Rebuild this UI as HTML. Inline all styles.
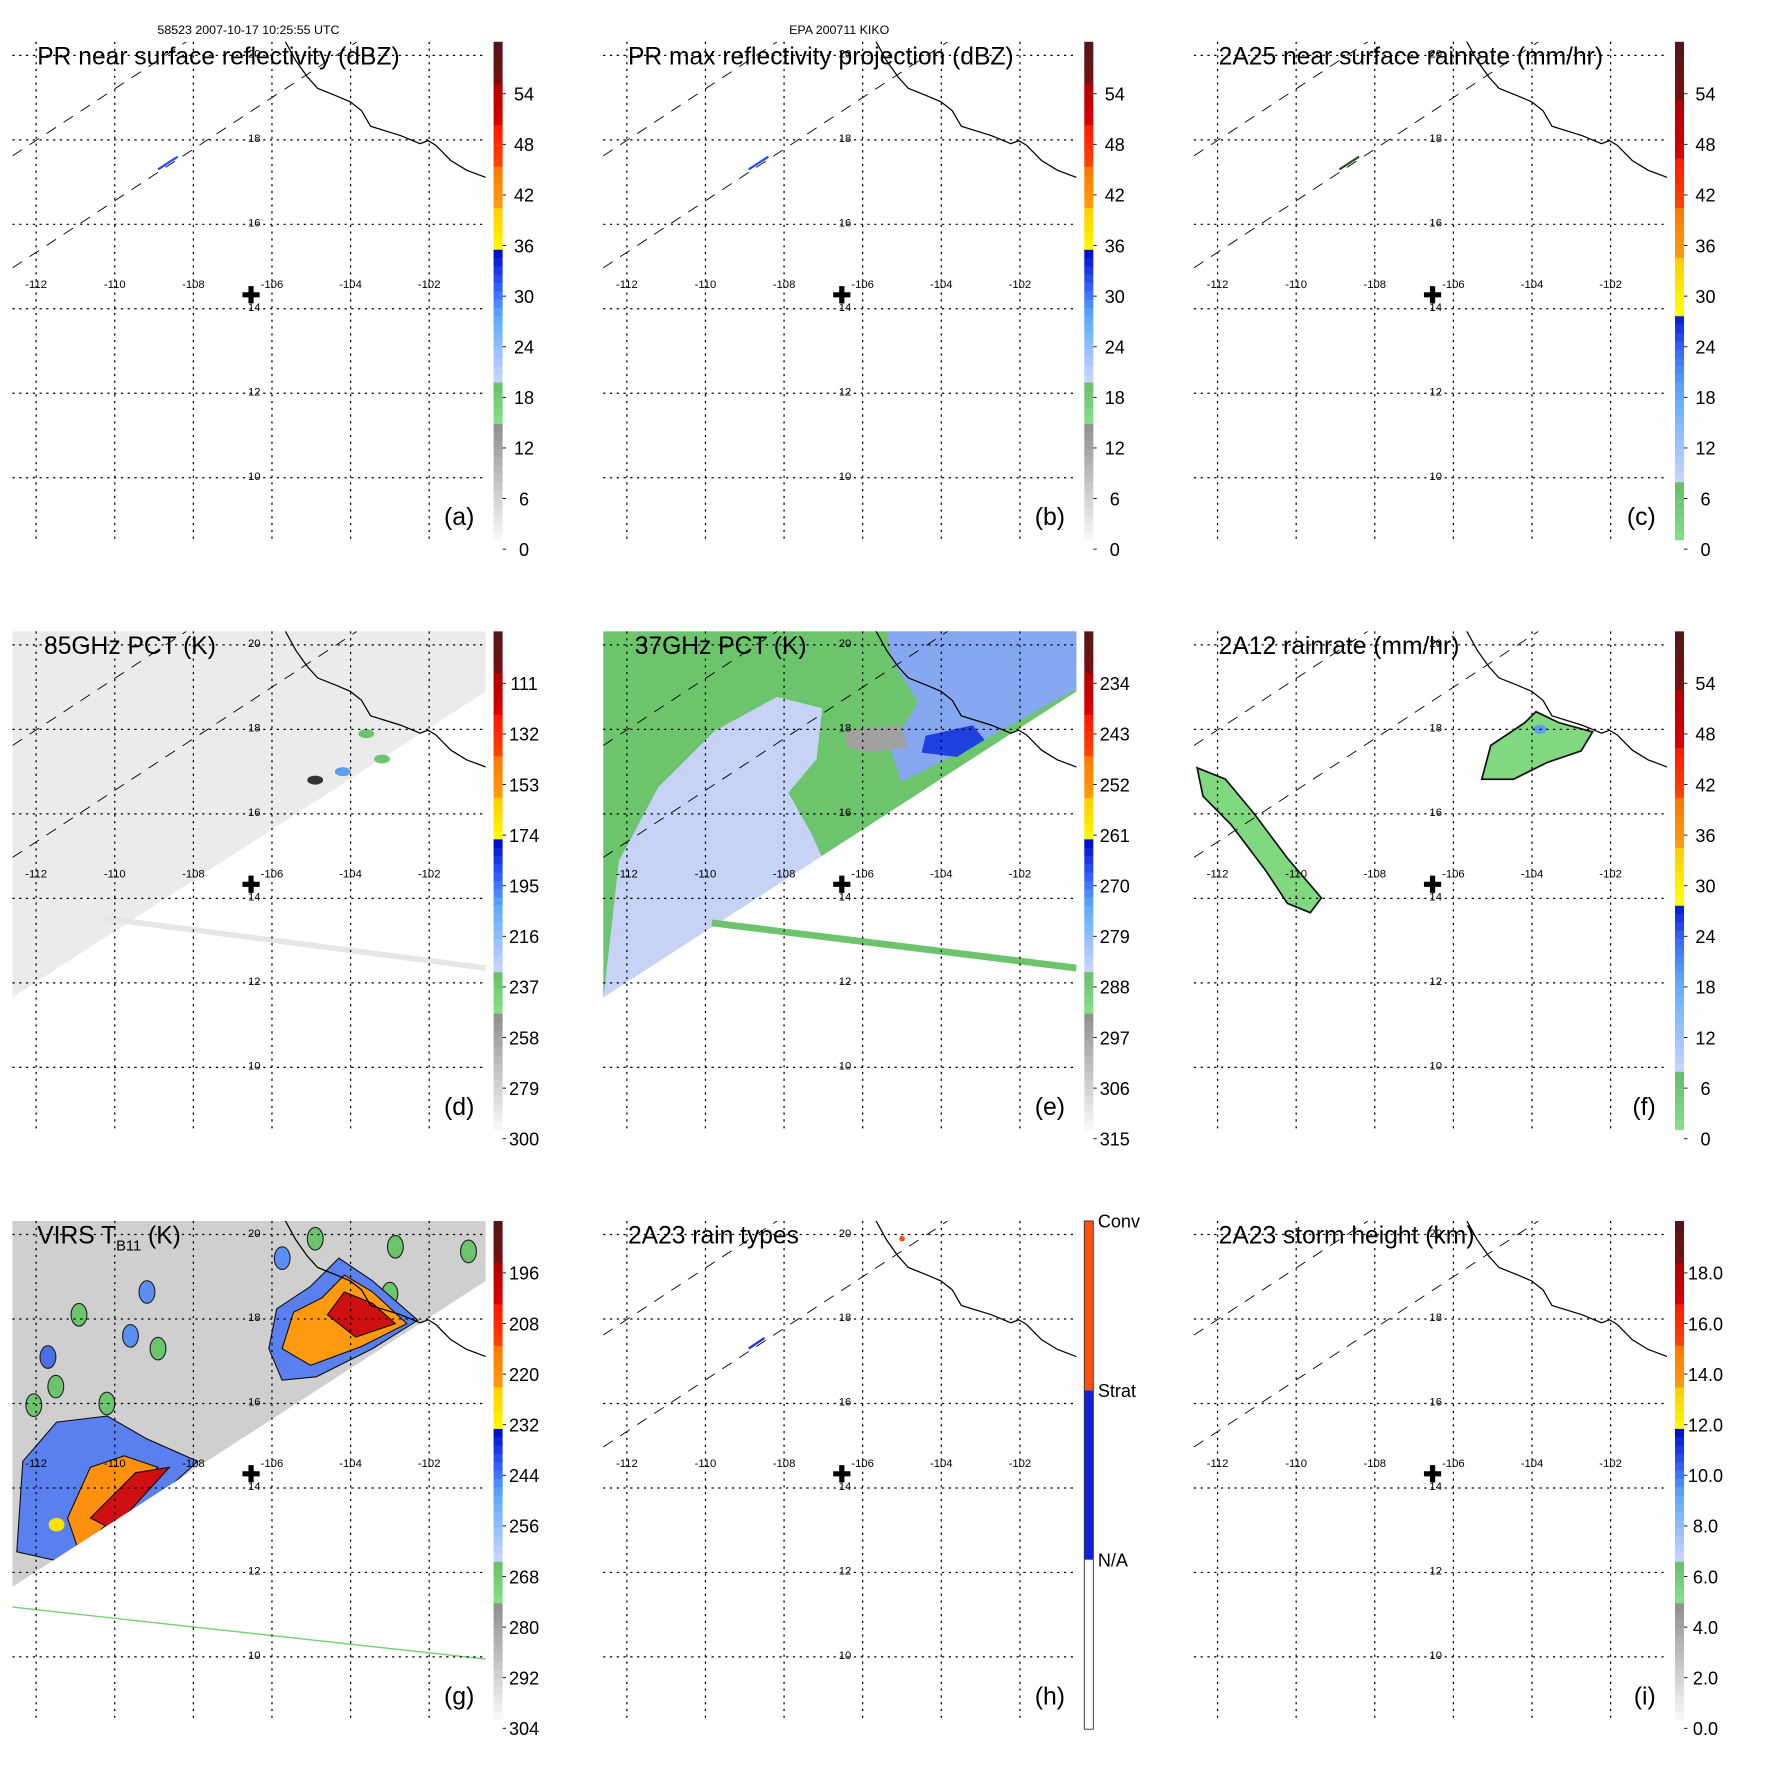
<!DOCTYPE html>
<html><head><meta charset="utf-8"><style>
html,body{margin:0;padding:0;background:#fff}
svg{display:block}
text{font-family:"Liberation Sans",sans-serif}
</style></head><body>
<svg id="fig" width="1771" height="1771" viewBox="0 0 1568 1568" xmlns="http://www.w3.org/2000/svg">
<text x="220" y="30" font-size="11" text-anchor="middle">58523 2007-10-17 10:25:55 UTC</text>
<text x="743" y="30" font-size="11" text-anchor="middle">EPA 200711 KIKO</text>
</svg>
<script>
// ---- data ----
const lonTicks = [-112,-110,-108,-106,-104,-102];
const latTicks = [20,18,16,14,12,10];
const coastLon = [-105.68,-105.39,-105.10,-104.84,-104.36,-104.01,-103.72,-103.49,-102.72,-102.23,-102.03,-101.83,-101.45,-101.05,-100.56];
const coastLat = [20.36,19.87,19.49,19.22,19.04,18.90,18.69,18.32,18.10,17.91,17.98,17.87,17.51,17.28,17.11];
const swathLon = [-112.6,-100.56,-100.56,-112.6];
const swathLat = [20.4,20.4,18.90,11.66];
const cbLabelsA = ["54","48","42","36","30","24","18","12","6","0"];
const cbLabelsD = ["111","132","153","174","195","216","237","258","279","300"];
const cbLabelsE = ["234","243","252","261","270","279","288","297","306","315"];
const cbLabelsG = ["196","208","220","232","244","256","268","280","292","304"];
const cbLabelsI = ["18.0","16.0","14.0","12.0","10.0","8.0","6.0","4.0","2.0","0.0"];
const rainTypeLabels = ["Conv","Strat","N/A"];
const titles = ["PR near surface reflectivity (dBZ)","PR max reflectivity projection (dBZ)","2A25 near surface rainrate (mm/hr)","85GHz PCT (K)","37GHz PCT (K)","2A12 rainrate (mm/hr)","VIRS T","2A23 rain types","2A23 storm height (km)"];
const panelLetters = ["(a)","(b)","(c)","(d)","(e)","(f)","(g)","(h)","(i)"];
const centerLon = -106.53, centerLat = 14.33;
const eLightLon=[-112.6,-112.2,-111.2,-109.76,-108.18,-107.03,-107.17,-107.89,-107.32,-106.3];
const eLightLat=[11.6,14.89,16.63,17.97,18.77,18.5,17.3,16.5,15.56,13.5];
const eBlueLon=[-105.39,-100.56,-100.56,-103.01,-105.02,-105.3,-104.59,-105.3];
const eBlueLat=[20.4,20.4,18.96,17.70,16.76,17.57,18.64,19.71];
const eDarkLon=[-104.4,-103.2,-102.9,-103.6,-104.5];
const eDarkLat=[17.85,18.1,17.75,17.35,17.45];
const eGrayLon=[-106.45,-105.0,-104.87,-105.9,-106.4];
const eGrayLat=[17.97,18.1,17.57,17.45,17.6];
const fLongLon=[-112.52,-111.80,-111.08,-110.22,-109.36,-109.64,-110.22,-110.79,-111.66,-112.37];
const fLongLat=[17.09,16.82,16.02,14.95,14.01,13.66,13.88,14.68,15.75,16.42];
const fRightLon=[-105.28,-105.05,-104.18,-103.90,-103.32,-102.46,-102.75,-103.61,-104.47];
const fRightLat=[16.82,17.62,18.16,18.42,18.16,17.94,17.49,17.22,16.82];
const gBlueRLon=[-106.08,-105.88,-105.02,-104.30,-103.44,-102.29,-103.44,-104.87,-105.74];
const gBlueRLat=[17.30,18.24,18.77,19.44,18.90,17.97,17.30,16.63,16.55];
const gOrRLon=[-105.74,-105.45,-104.73,-104.16,-103.44,-102.57,-103.72,-105.02];
const gOrRLat=[17.30,18.16,18.50,19.04,18.64,17.89,17.35,16.90];
const gRedRLon=[-104.59,-104.16,-103.44,-102.86,-103.87];
const gRedRLat=[18.10,18.64,18.37,17.89,17.57];
const gBlueLLon=[-112.49,-112.34,-111.48,-110.19,-109.18,-107.89,-109.47,-111.20];
const gBlueLLat=[12.49,14.63,15.56,15.70,15.16,14.63,13.29,12.22];
const gOrLLon=[-111.2,-110.62,-109.76,-108.90,-110.05,-110.91];
const gOrLLat=[13.29,14.49,14.76,14.49,13.29,12.49];
const gRedLLon=[-110.62,-109.47,-108.61,-110.05];
const gRedLLat=[13.29,14.36,14.49,13.02];
const gBlobLon=[-112.06,-110.91,-108.90,-109.18,-102.86,-105.74,-111.5,-110.2,-104.9,-103.0,-101.0,-111.7,-109.6];
const gBlobLat=[15.96,18.10,17.30,18.64,19.71,19.44,16.4,16.0,19.9,18.6,19.6,17.1,17.6];
const gBlobCol=["#6cc46c","#6cc46c","#6cc46c","#5a8ef0","#6cc46c","#5a8ef0","#6cc46c","#6cc46c","#6cc46c","#6cc46c","#6cc46c","#4a70e8","#5a8ef0"];

// ---- geometry ----
const NS="http://www.w3.org/2000/svg";
const svg=document.getElementById('fig');
const offX=[0,523,1046], offY=[0,522,1044];
const xs=lon=>32+(lon+112)*34.8;
const ys=lat=>49+(20-lat)*37.4;
function el(tag,attrs,parent){const e=document.createElementNS(NS,tag);for(const k in attrs)e.setAttribute(k,attrs[k]);(parent||svg).appendChild(e);return e;}
function pts(lons,lats){return lons.map((l,i)=>xs(l).toFixed(1)+','+ys(lats[i]).toFixed(1)).join(' ');}
const mapA=[[0,'#fafafa'],[0.238,'#8c8c8c'],[0.238,'#86e086'],[0.323,'#66bb66'],[0.323,'#c8d4ff'],[0.45,'#5aaaff'],[0.5,'#3a6aff'],[0.575,'#0010d0'],[0.575,'#ffff00'],[0.66,'#ffd000'],[0.66,'#ffa010'],[0.744,'#ff7a00'],[0.744,'#ff4a00'],[0.828,'#ff1a00'],[0.828,'#e00000'],[0.916,'#b00000'],[0.916,'#7a1010'],[1,'#501818']];
const mapC=[[0,'#86e086'],[0.12,'#66bb66'],[0.12,'#c8d4ff'],[0.3,'#5aaaff'],[0.38,'#3a6aff'],[0.456,'#0010d0'],[0.456,'#ffff00'],[0.56,'#ffd000'],[0.56,'#ffa010'],[0.66,'#ff7a00'],[0.66,'#ff4a00'],[0.76,'#ff1a00'],[0.76,'#e00000'],[0.88,'#b00000'],[0.88,'#7a1010'],[1,'#501818']];
function hex(c){return [1,3,5].map(i=>parseInt(c.substr(i,2),16));}
function cmap(m,f){for(let i=0;i<m.length-1;i++){if(f>=m[i][0]&&f<=m[i+1][0]&&m[i+1][0]>m[i][0]){const t=(f-m[i][0])/(m[i+1][0]-m[i][0]);const a=hex(m[i][1]),b=hex(m[i+1][1]);return 'rgb('+a.map((v,k)=>Math.round(v+(b[k]-v)*t)).join(',')+')';}}return m[m.length-1][1];}

const cbLabelSets=[cbLabelsA,cbLabelsA,cbLabelsA,cbLabelsD,cbLabelsE,cbLabelsA,cbLabelsG,null,cbLabelsI];
const cbMaps=[mapA,mapA,mapC,mapA,mapA,mapC,mapA,null,mapA];

for(let p=0;p<9;p++){
  const r=Math.floor(p/3),c=p%3;
  const g=el('g',{transform:`translate(${offX[c]},${offY[r]})`});
  
  
  const cid='clip'+p;
  const cp=el('clipPath',{id:cid},g);el('rect',{x:11,y:37,width:419,height:443},cp);
  const data=el('g',{'clip-path':`url(#${cid})`},g);
  
  
  const poly=(lo,la,fill,extra)=>el('polygon',Object.assign({points:pts(lo,la),fill:fill},extra||{}),data);
  if(p===3){
    poly(swathLon,swathLat,'#ebebeb');
    el('line',{x1:xs(-110.28),y1:ys(13.53),x2:xs(-100.56),y2:ys(12.35),stroke:'#e6e6e6','stroke-width':5},data);
    [[-103.2,17.3,'#6cc46c'],[-104.2,17.0,'#5a9ef0'],[-103.6,17.9,'#6cc46c'],[-104.9,16.8,'#333']].forEach(b=>{el('ellipse',{cx:xs(b[0]),cy:ys(b[1]),rx:7,ry:4,fill:b[2]},data);});
  }
  if(p===4){
    poly(swathLon,swathLat,'#6cc46c');
    const cl=el('clipPath',{id:'sw4'},g);el('polygon',{points:pts(swathLon,swathLat)},cl);
    const sub=el('g',{'clip-path':'url(#sw4)'},data);
    el('polygon',{points:pts(eLightLon,eLightLat),fill:'#c6d2f6'},sub);
    el('polygon',{points:pts(eBlueLon,eBlueLat),fill:'#86a8f0'},sub);
    el('polygon',{points:pts(eDarkLon,eDarkLat),fill:'#2040e0'},sub);
    el('polygon',{points:pts(eGrayLon,eGrayLat),fill:'#a0a0a0'},sub);
    el('line',{x1:xs(-109.84),y1:ys(13.42),x2:xs(-100.56),y2:ys(12.35),stroke:'#6cc46c','stroke-width':6},data);
  }
  if(p===5){
    poly(fLongLon,fLongLat,'#80d880',{stroke:'#111','stroke-width':1.5});
    poly(fRightLon,fRightLat,'#80d880',{stroke:'#111','stroke-width':1.5});
    el('ellipse',{cx:xs(-103.8),cy:ys(18.0),rx:6,ry:4,fill:'#5a9ef0'},data);
  }
  if(p===6){
    poly(swathLon,swathLat,'#cfcfcf');
    const cl=el('clipPath',{id:'sw6'},g);el('polygon',{points:pts(swathLon,swathLat)},cl);
    const sub=el('g',{'clip-path':'url(#sw6)'},data);
    gBlobLon.forEach((l,i)=>{el('ellipse',{cx:xs(l),cy:ys(gBlobLat[i]),rx:7,ry:10,fill:gBlobCol[i],stroke:'#222','stroke-width':1},sub);});
    [[gBlueRLon,gBlueRLat,'#5a80f0'],[gOrRLon,gOrRLat,'#ff9a10'],[gRedRLon,gRedRLat,'#d01010'],[gBlueLLon,gBlueLLat,'#5a80f0'],[gOrLLon,gOrLLat,'#ff9010'],[gRedLLon,gRedLLat,'#d01010']].forEach(s=>{el('polygon',{points:pts(s[0],s[1]),fill:s[2],stroke:'#111','stroke-width':1},sub);});
    el('ellipse',{cx:xs(-111.48),cy:ys(13.13),rx:7,ry:6,fill:'#ffe000'},sub);
    el('line',{x1:xs(-112.6),y1:ys(11.18),x2:xs(-100.56),y2:ys(9.95),stroke:'#70d070','stroke-width':1.2},data);
  }
  if(p<3){
    el('line',{x1:xs(-108.9),y1:ys(17.3),x2:xs(-108.4),y2:ys(17.6),stroke:p===2?'#225522':'#2050f0','stroke-width':2},data);
  }
  if(p===7){
    el('line',{x1:xs(-108.9),y1:ys(17.3),x2:xs(-108.5),y2:ys(17.55),stroke:'#2030e0','stroke-width':2},data);
    el('circle',{cx:xs(-105.0),cy:ys(19.9),r:2.5,fill:'#ff5010'},data);
  }
  if(p!==6){
    el('line',{x1:xs(-112.6),y1:ys(17.62),x2:xs(-108.18),y2:ys(20.32),stroke:'#000','stroke-width':0.8,'stroke-dasharray':'10,8'},data);
    el('line',{x1:xs(-112.6),y1:ys(14.97),x2:xs(-103.84),y2:ys(20.32),stroke:'#000','stroke-width':0.8,'stroke-dasharray':'10,8'},data);
  }
  const coast=el('polyline',{points:pts(coastLon,coastLat),fill:'none',stroke:'#000','stroke-width':1.1},data);
  
  
  latTicks.forEach(lt=>{
    const l=el('line',{x1:11,x2:430,y1:ys(lt),y2:ys(lt),stroke:'#000','stroke-width':1.1,'stroke-dasharray':'2,4'},g);
    
    
    const t=el('text',{x:xs(-106.45),y:ys(lt)+2,'font-size':10,'text-anchor':'middle'},g);t.textContent=lt;
    
    
  });
  lonTicks.forEach(ln=>{
    const l=el('line',{x1:xs(ln),x2:xs(ln),y1:37,y2:480,stroke:'#000','stroke-width':1.1,'stroke-dasharray':'2,4'},g);
    
    
    const t=el('text',{x:xs(ln),y:ys(14.6)+4,'font-size':10,'text-anchor':'middle'},g);t.textContent=ln;
    
    
  });
  const cr=el('text',{x:xs(centerLon),y:ys(centerLat)+7,'font-size':20,'font-weight':'bold','text-anchor':'middle'},g);cr.textContent='✚';
  
  
  const tt=el('text',{x:p===3||p===4?39:33,y:57,'font-size':21.8},g);
  
  
  if(p===6){tt.textContent='VIRS T';const s=el('tspan',{'font-size':13,dy:6},tt);s.textContent='B11';const s2=el('tspan',{dy:-6},tt);s2.textContent=' (K)';}
  else tt.textContent=titles[p];
  const pl=el('text',{x:420,y:465,'font-size':22,'text-anchor':'end'},g);pl.textContent=panelLetters[p];
  
  
  const cb=el('g',{},g);
  
  
  if(p===7){
    const cols=['#ff5010','#1020e0','#ffffff'];
    cols.forEach((col,i)=>{el('rect',{x:437,y:37+150*i,width:8,height:150,fill:col},cb);});
    el('rect',{x:437,y:37,width:8,height:450,fill:'none',stroke:'#333','stroke-width':0.8},cb);
    rainTypeLabels.forEach((lb,i)=>{const t=el('text',{x:449,y:43+150*i,'font-size':16},cb);t.textContent=lb;
      
      });
  } else {
    const m=cbMaps[p],N=60,top=37,bot=478;
    for(let i=0;i<N;i++){const f=(i+0.5)/N;el('rect',{x:437,y:bot-(i+1)*(bot-top)/N,width:8,height:(bot-top)/N+0.4,fill:cmap(m,f)},cb);}
    cbLabelSets[p].forEach((lb,i)=>{const y=83+44.8*i;
      el('line',{x1:445,x2:448,y1:y,y2:y,stroke:'#000','stroke-width':0.8},cb);
      const t=el('text',{x:464,y:y+6,'font-size':16,'text-anchor':'middle'},cb);t.textContent=lb;
      
      });
  }
}
</script>
</body></html>
